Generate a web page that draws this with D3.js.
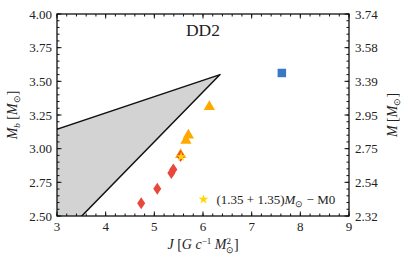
<!DOCTYPE html>
<html><head><meta charset="utf-8">
<script src="https://cdn.jsdelivr.net/npm/d3@7"></script>
<style>
body{margin:0;background:#fff;}
text{font-family:"Liberation Serif","Times New Roman",serif;fill:#222;}
</style></head>
<body><svg id="c" width="407" height="255"></svg>
<script>
// ---- data ----
const xDomain = [3, 9];
const yDomain = [2.5, 4.0];
const xTicks = [3, 4, 5, 6, 7, 8, 9];
const yTicks = [2.50, 2.75, 3.00, 3.25, 3.50, 3.75, 4.00];
const rightTickLabels = ["2.32", "2.54", "2.75", "2.95", "3.39", "3.58", "3.74"];

const regionJ = [6.35, 2.0, 2.0];
const regionM = [3.55, 3.023, 1.942];

const redJ = [4.73, 5.06, 5.35, 5.39, 5.54];
const redM = [2.594, 2.703, 2.82, 2.845, 2.946];
const orangeJ = [5.54, 5.65, 5.70, 6.13];
const orangeM = [2.955, 3.06, 3.10, 3.312];
const blueJ = [7.62];
const blueM = [3.562];
const starJ = [5.55];
const starM = [2.94];

const title = "DD2";
const legendLabel = "M0";

// ---- layout ----
const L = 57, R = 349, T = 14, B = 216;
const svg = d3.select("#c");
const x = d3.scaleLinear().domain(xDomain).range([L, R]);
const y = d3.scaleLinear().domain(yDomain).range([B, T]);

svg.append("defs").append("clipPath").attr("id", "clip")
  .append("rect").attr("x", L).attr("y", T).attr("width", R - L).attr("height", B - T);

// shaded region
const reg = regionJ.map((j, i) => [x(j), y(regionM[i])]);
svg.append("path")
  .attr("clip-path", "url(#clip)")
  .attr("d", d3.line()(reg) + "Z")
  .attr("fill", "#d3d3d3").attr("stroke", "#111").attr("stroke-width", 1.5)
  .attr("stroke-linejoin", "round");

// markers
const thinDiamond = (w, h) => `M0,${-h/2}L${w/2},0L0,${h/2}L${-w/2},0Z`;
const g = svg.append("g").attr("clip-path", "url(#clip)");
g.selectAll(".tri").data(orangeJ).join("path")
  .attr("transform", (d, i) => `translate(${x(d)},${y(orangeM[i])})`)
  .attr("d", d3.symbol(d3.symbolTriangle, 55)())
  .attr("fill", "#ffa800");
g.selectAll(".dia").data(redJ).join("path")
  .attr("transform", (d, i) => `translate(${x(d)},${y(redM[i])})`)
  .attr("d", thinDiamond(8, 12))
  .attr("fill", "#e8473b");
g.selectAll(".sq").data(blueJ).join("path")
  .attr("transform", (d, i) => `translate(${x(d)},${y(blueM[i])})`)
  .attr("d", d3.symbol(d3.symbolSquare, 72)())
  .attr("fill", "#3a78c4");
g.selectAll(".star").data(starJ).join("path")
  .attr("transform", (d, i) => `translate(${x(d)},${y(starM[i])})`)
  .attr("d", d3.symbol(d3.symbolStar, 30)())
  .attr("fill", "#ffd700");

// ticks (inward, mirrored)
const minorX = d3.range(xDomain[0], xDomain[1] + 0.001, 0.2);
const minorY = d3.range(yDomain[0], yDomain[1] + 0.001, 0.05);
const tickG = svg.append("g").attr("stroke", "#111").attr("stroke-width", 1);
[[minorX, 2.5], [xTicks, 4.5]].forEach(([vals, len]) => vals.forEach(v => {
  tickG.append("line").attr("x1", x(v)).attr("x2", x(v)).attr("y1", B).attr("y2", B - len);
  tickG.append("line").attr("x1", x(v)).attr("x2", x(v)).attr("y1", T).attr("y2", T + len);
}));
[[minorY, 2.5], [yTicks, 4.5]].forEach(([vals, len]) => vals.forEach(v => {
  tickG.append("line").attr("y1", y(v)).attr("y2", y(v)).attr("x1", L).attr("x2", L + len);
  tickG.append("line").attr("y1", y(v)).attr("y2", y(v)).attr("x1", R).attr("x2", R - len);
}));
svg.append("rect").attr("x", L).attr("y", T).attr("width", R - L).attr("height", B - T)
  .attr("fill", "none").attr("stroke", "#111").attr("stroke-width", 1.3);

// tick labels
const tfs = 13;
svg.append("g").selectAll("text").data(yTicks).join("text")
  .attr("x", L - 5).attr("y", d => y(d) + 4.5).attr("text-anchor", "end")
  .attr("font-size", tfs).text(d => d.toFixed(2));
svg.append("g").selectAll("text").data(yTicks).join("text")
  .attr("x", R + 6).attr("y", d => y(d) + 4.5).attr("text-anchor", "start")
  .attr("font-size", tfs).text((d, i) => rightTickLabels[i]);
svg.append("g").selectAll("text").data(xTicks).join("text")
  .attr("x", d => x(d)).attr("y", B + 15).attr("text-anchor", "middle")
  .attr("font-size", tfs).text(d => d);

// title
svg.append("text").attr("x", (L + R) / 2).attr("y", 36).attr("text-anchor", "middle")
  .attr("font-size", 17.5).text(title);

// axis labels
const xl = svg.append("text").attr("x", 203).attr("y", 249).attr("text-anchor", "middle").attr("font-size", 14);
xl.append("tspan").attr("font-style", "italic").text("J");
xl.append("tspan").text(" [");
xl.append("tspan").attr("font-style", "italic").text("G c");
xl.append("tspan").attr("font-size", 9).attr("dy", -5).text("−1");
xl.append("tspan").attr("font-style", "italic").attr("dy", 5).text(" M");
xl.append("tspan").attr("font-size", 9).attr("dy", -5).text("2");
xl.append("tspan").attr("font-size", 9).attr("dx", -5).attr("dy", 9).text("⊙");
xl.append("tspan").attr("dy", -4).text("]");

const yl = svg.append("text").attr("transform", "translate(17,115) rotate(-90)")
  .attr("text-anchor", "middle").attr("font-size", 14);
yl.append("tspan").attr("font-style", "italic").text("M");
yl.append("tspan").attr("font-style", "italic").attr("font-size", 9).attr("dy", 3).text("b");
yl.append("tspan").attr("dy", -3).text(" [");
yl.append("tspan").attr("font-style", "italic").text("M");
yl.append("tspan").attr("font-size", 9).attr("dy", 3).text("⊙");
yl.append("tspan").attr("dy", -3).text("]");

const yr = svg.append("text").attr("transform", "translate(397,115) rotate(-90)")
  .attr("text-anchor", "middle").attr("font-size", 14);
yr.append("tspan").attr("font-style", "italic").text("M");
yr.append("tspan").text(" [");
yr.append("tspan").attr("font-style", "italic").text("M");
yr.append("tspan").attr("font-size", 9).attr("dy", 3).text("⊙");
yr.append("tspan").attr("dy", -3).text("]");

// legend
const lgx = x(6.01), lgy = y(2.624);
svg.append("path").attr("transform", `translate(${lgx},${lgy})`)
  .attr("d", d3.symbol(d3.symbolStar, 30)()).attr("fill", "#ffd700");
const lt = svg.append("text").attr("x", lgx + 13).attr("y", lgy + 4.5).attr("font-size", 13);
lt.append("tspan").text("(1.35 + 1.35)");
lt.append("tspan").attr("font-style", "italic").text("M");
lt.append("tspan").attr("font-size", 9).attr("dy", 3).text("⊙");
lt.append("tspan").attr("dy", -3).text(" − " + legendLabel);
</script></body></html>
